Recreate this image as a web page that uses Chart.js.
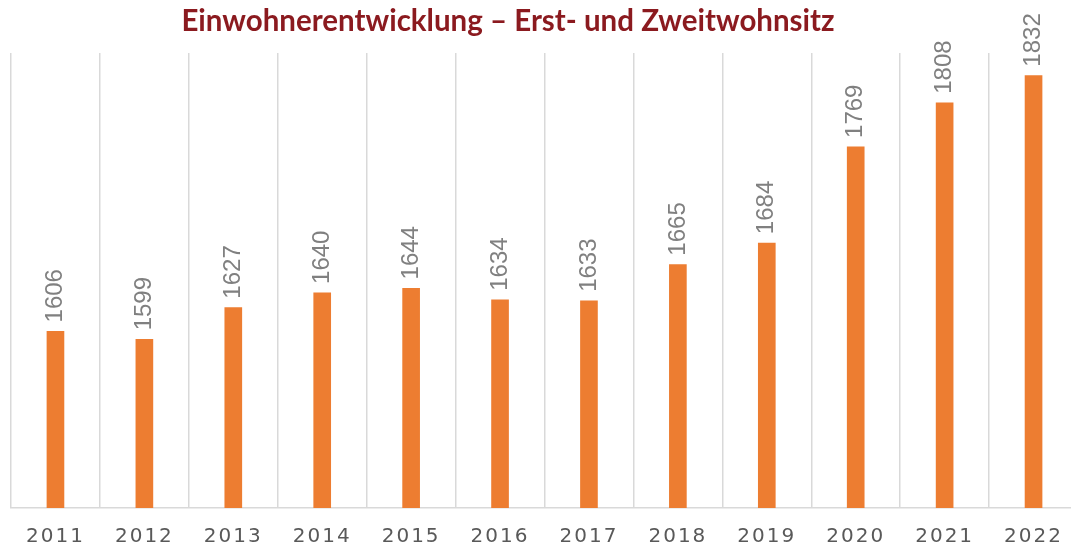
<!DOCTYPE html>
<html>
<head>
<meta charset="utf-8">
<script src="https://cdn.jsdelivr.net/npm/chart.js@4/dist/chart.umd.min.js"></script>
<style>
  html, body { margin: 0; padding: 0; background: #ffffff; overflow: hidden; }
  #wrap { width: 1090px; height: 546px; position: relative; }
</style>
</head>
<body>
<div id="wrap"><canvas id="c" width="1090" height="546"></canvas></div>
<script>
const chartTitle = 'Einwohnerentwicklung – Erst- und Zweitwohnsitz';
const years = ['2011', '2012', '2013', '2014', '2015', '2016', '2017', '2018', '2019', '2020', '2021', '2022'];
const residents = [1606, 1599, 1627, 1640, 1644, 1634, 1633, 1665, 1684, 1769, 1808, 1832];

const labelPlugin = {
  id: 'labelsAndTitle',
  beforeDraw(chart) {
    chart.ctx.letterSpacing = '0px';
  },
  afterDatasetsDraw(chart) {
    const ctx = chart.ctx;
    const meta = chart.getDatasetMeta(0);
    const values = chart.data.datasets[0].data;
    ctx.save();
    ctx.letterSpacing = '0px';
    ctx.fillStyle = '#808080';
    ctx.font = '24px "Liberation Sans", Arial, sans-serif';
    meta.data.forEach((bar, i) => {
      ctx.save();
      ctx.translate(bar.x, bar.y - 9);
      ctx.rotate(-Math.PI / 2);
      ctx.textAlign = 'left';
      ctx.textBaseline = 'middle';
      ctx.fillText(String(values[i]), 0, 0);
      ctx.restore();
    });
    ctx.restore();
    // spacing for the x tick labels drawn afterwards (z: 1 layer)
    ctx.letterSpacing = '2px';
  },
  afterDraw(chart) {
    const ctx = chart.ctx;
    ctx.letterSpacing = '0px';
    ctx.save();
    ctx.fillStyle = '#8b1a1f';
    ctx.font = 'bold 29.5px Lato, "Open Sans", sans-serif';
    ctx.textAlign = 'center';
    ctx.textBaseline = 'middle';
    ctx.fillText(chartTitle, 508, 21);
    ctx.restore();
  }
};

new Chart(document.getElementById('c'), {
  type: 'bar',
  data: {
    labels: years,
    datasets: [{
      data: residents,
      backgroundColor: '#ed7d31',
      borderWidth: 0,
      barThickness: 17
    }]
  },
  options: {
    responsive: false,
    devicePixelRatio: 1,
    animation: false,
    layout: { padding: { top: 53, left: 11, right: 12, bottom: 0 } },
    plugins: {
      legend: { display: false },
      title: { display: false },
      tooltip: { enabled: false }
    },
    scales: {
      x: {
        afterFit(scale) { scale.height = 38; },
        grid: {
          offset: true,
          color: '#d9d9d9',
          lineWidth: 1.5,
          drawTicks: false
        },
        border: { display: true, color: '#d9d9d9', width: 1.5 },
        ticks: {
          z: 1,
          color: '#595959',
          padding: 19,
          autoSkip: false,
          maxRotation: 0,
          font: { family: '"DejaVu Sans", sans-serif', size: 20, lineHeight: 1.0 }
        }
      },
      y: {
        display: false,
        min: 1450,
        max: 1852
      }
    }
  },
  plugins: [labelPlugin]
});
</script>
</body>
</html>
